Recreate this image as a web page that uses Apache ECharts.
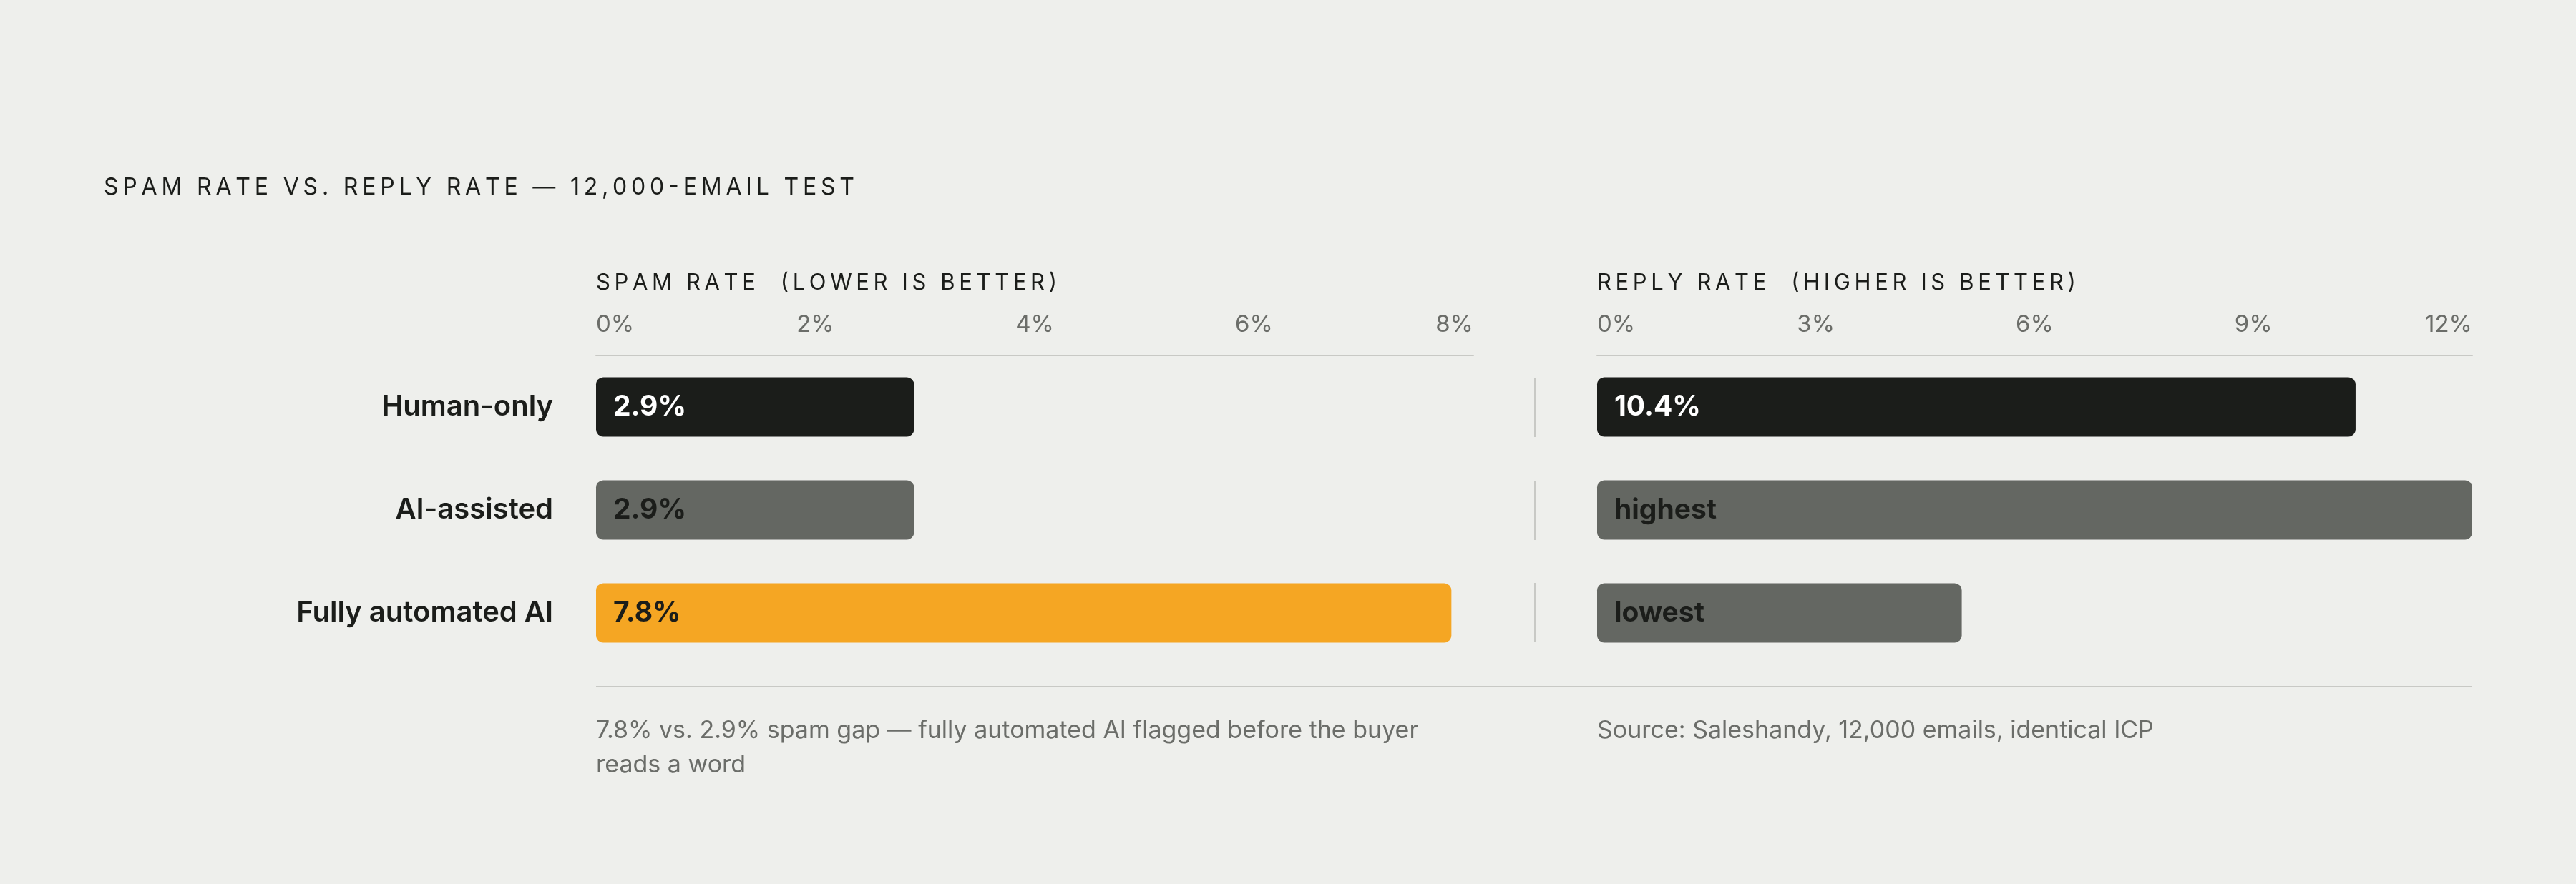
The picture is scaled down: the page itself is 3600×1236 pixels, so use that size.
<!DOCTYPE html>
<html><head><meta charset="utf-8">
<script src="https://cdn.jsdelivr.net/npm/echarts@6/dist/echarts.min.js"></script>
<style>html,body{margin:0;background:#eeefec}#c{width:3600px;height:1236px}</style>
</head><body><div id="c"></div>
<script>
var categories = ["Human-only", "AI-assisted", "Fully automated AI"];
var spamValues = [2.9, 2.9, 7.8];
var spamLabels = ["2.9%", "2.9%", "7.8%"];
var replyValues = [10.4, 12, 5];
var replyLabels = ["10.4%", "highest", "lowest"];
var barColors = ["#1b1d1a", "#646762", "#f5a623"];
var replyColors = ["#1b1d1a", "#646762", "#646762"];
var labelColors = ["#ffffff", "#1b1d1a", "#1b1d1a"];
var replyLabelColors = ["#ffffff", "#1b1d1a", "#1b1d1a"];

function spaced(s) { return s.split("").join("\u2009"); }
var F = "Inter, 'Noto Sans', sans-serif";
var chart = echarts.init(document.getElementById("c"));

function xAxis(idx, max, interval) {
  return {
    gridIndex: idx, type: "value", position: "top", min: 0, max: max, interval: interval,
    axisLine: { show: true, lineStyle: { color: "#c8c9c5", width: 2 } },
    axisTick: { show: false }, splitLine: { show: false },
    axisLabel: { formatter: "{value}%", color: "#6b6d69", fontFamily: F, fontSize: 33,
      margin: 26, alignMinLabel: "left", alignMaxLabel: "right" }
  };
}
function yAxis(idx, showLabel) {
  return {
    gridIndex: idx, type: "category", data: categories, inverse: true,
    axisLine: { show: false }, axisTick: { show: false },
    axisLabel: { show: showLabel, color: "#1b1d1a", fontFamily: F, fontSize: 40,
      fontWeight: 600, margin: 60 }
  };
}
function series(idx, vals, colors, labels, lcolors) {
  return {
    type: "bar", xAxisIndex: idx, yAxisIndex: idx, barWidth: 83,
    data: vals.map(function (v, i) {
      return { value: v, itemStyle: { color: colors[i], borderRadius: 10 },
        label: { show: true, position: "insideLeft", distance: 24, formatter: labels[i],
          color: lcolors[i], fontFamily: F, fontSize: 39, fontWeight: 700 } };
    })
  };
}

chart.setOption({
  backgroundColor: "#eeefec",
  animation: false,
  grid: [
    { left: 833, width: 1226, top: 497, bottom: 307 },
    { left: 2232, width: 1223, top: 497, bottom: 307 }
  ],
  xAxis: [xAxis(0, 8, 2), xAxis(1, 12, 3)],
  yAxis: [yAxis(0, true), yAxis(1, false)],
  series: [
    series(0, spamValues, barColors, spamLabels, labelColors),
    series(1, replyValues, replyColors, replyLabels, replyLabelColors)
  ],
  graphic: [
    { type: "text", left: 145, top: 246, style: { text: spaced("SPAM RATE VS. REPLY RATE — 12,000-EMAIL TEST"),
      fill: "#1b1d1a", font: "400 32px " + F } },
    { type: "text", left: 833, top: 380, style: { text: spaced("SPAM RATE") + "    " + spaced("(LOWER IS BETTER)"),
      fill: "#1b1d1a", font: "400 31px " + F } },
    { type: "text", left: 2232, top: 380, style: { text: spaced("REPLY RATE") + "    " + spaced("(HIGHER IS BETTER)"),
      fill: "#1b1d1a", font: "400 31px " + F } },
    { type: "line", shape: { x1: 833, y1: 960, x2: 3455, y2: 960 }, style: { stroke: "#c8c9c5", lineWidth: 2 } },
    { type: "line", shape: { x1: 2145, y1: 528, x2: 2145, y2: 611 }, style: { stroke: "#c8c9c5", lineWidth: 2 } },
    { type: "line", shape: { x1: 2145, y1: 672, x2: 2145, y2: 755 }, style: { stroke: "#c8c9c5", lineWidth: 2 } },
    { type: "line", shape: { x1: 2145, y1: 815, x2: 2145, y2: 898 }, style: { stroke: "#c8c9c5", lineWidth: 2 } },
    { type: "text", left: 833, top: 998, style: { text: "7.8% vs. 2.9% spam gap — fully automated AI flagged before the buyer\nreads a word",
      fill: "#6b6d69", font: "400 34px " + F, lineHeight: 48 } },
    { type: "text", left: 2232, top: 998, style: { text: "Source: Saleshandy, 12,000 emails, identical ICP",
      fill: "#6b6d69", font: "400 34px " + F, lineHeight: 48 } }
  ]
});
</script></body></html>
